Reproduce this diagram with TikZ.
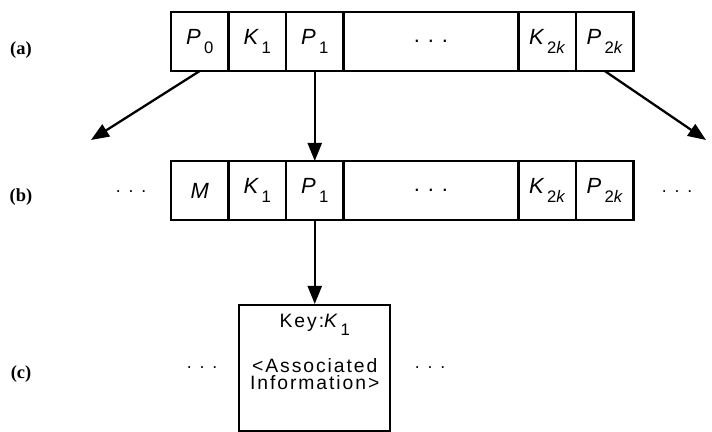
\documentclass[tikz,border=0pt]{standalone}
\usepackage{fontspec}
\setmainfont{Liberation Sans}
\newfontfamily\rowfont{Liberation Serif}
\newfontfamily\boxfont[LetterSpace=10]{Liberation Sans}
\usetikzlibrary{positioning,arrows.meta}
\newcommand{\sym}[2]{{\itshape #1}\kern2pt\raisebox{-0.8ex}{\fontsize{9.5}{10}\selectfont #2}}
\newcommand{\gapdots}{.\kern4.5pt.\kern4.5pt.}
\begin{document}
\begin{tikzpicture}[
    cell/.style={draw, line width=1.3pt, inner sep=0pt, outer sep=0pt,
        minimum width=1.15cm, minimum height=1.18cm,
        font=\fontsize{12.5}{14}\selectfont},
    gap/.style={cell, minimum width=3.5cm},
    tag/.style={font=\rowfont\bfseries\fontsize{10.5}{12}\selectfont},
    arr/.style={line width=1.3pt, -{Triangle[length=0.36cm,width=0.28cm]}},
    node distance=0pt
]
    \useasboundingbox (0,0) rectangle (14.24,8.64);
    % (a) the node
    \node[cell, anchor=west] (a0) at (3.42,7.81) {\sym{P}{0}};
    \node[cell, right=of a0] (a1) {\sym{K}{1}};
    \node[cell, right=of a1] (a2) {\sym{P}{1}};
    \node[gap, right=of a2] (a3) {\gapdots};
    \node[cell, right=of a3] (a4) {\sym{K}{2\textit{k}}};
    \node[cell, right=of a4] (a5) {\sym{P}{2\textit{k}}};
    \node[tag] (ta) at (0.42,7.64) {(a)};
    % (b) the leaf
    \node[cell, anchor=west] (b0) at (3.42,4.83) {{\itshape M}};
    \node[cell, right=of b0] (b1) {\sym{K}{1}};
    \node[cell, right=of b1] (b2) {\sym{P}{1}};
    \node[gap, right=of b2] (b3) {\gapdots};
    \node[cell, right=of b3] (b4) {\sym{K}{2\textit{k}}};
    \node[cell, right=of b4] (b5) {\sym{P}{2\textit{k}}};
    \node (bl) at (2.62,4.80) {\gapdots};
    \node (br) at (13.54,4.80) {\gapdots};
    \node[tag] (tb) at (0.42,4.70) {(b)};
    % (c) the record
    \node[draw, line width=1.3pt, minimum width=3.02cm, minimum height=2.52cm,
        below=1.68cm of b2] (rec) {};
    \node[below=0.08cm of rec.north, font=\boxfont\fontsize{11}{12}\selectfont] (key)
        {Key:\sym{K}{1}};
    \node[below=0.2cm of key, align=center, font=\boxfont\fontsize{11}{9.8}\selectfont] (info)
        {<Associated\\Information>};
    \node (cl) at (4.04,1.28) {\gapdots};
    \node (cr) at (8.60,1.28) {\gapdots};
    \node[tag] (tc) at (0.42,1.16) {(c)};
    % pointers
    \coordinate (lt) at (1.82,5.84);
    \coordinate (rt) at (14.12,5.84);
    \draw[arr] (a0.south) -- (lt);
    \draw[arr] (a5.south) -- (rt);
    \draw[arr] (a2.south) -- (b2.north);
    \draw[arr] (b2.south) -- (rec.north);
\end{tikzpicture}
\end{document}
